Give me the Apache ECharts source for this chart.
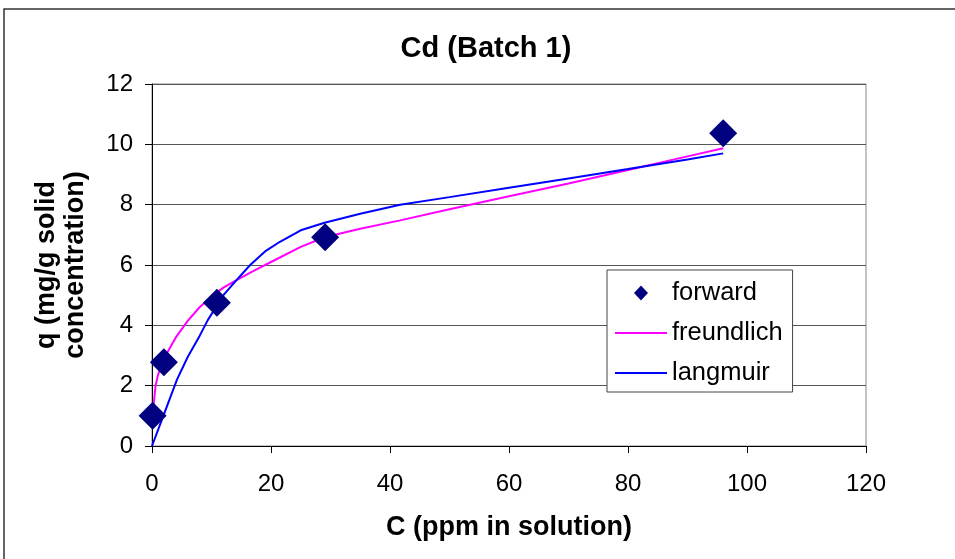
<!DOCTYPE html>
<html>
<head>
<meta charset="utf-8">
<script src="https://cdn.jsdelivr.net/npm/echarts@6/dist/echarts.min.js"></script>
<style>html,body{margin:0;padding:0;background:#fff;}#c{width:955px;height:559px;}</style>
</head>
<body>
<div id="c"></div>
<script>
var titleText = 'Cd (Batch 1)';
var xName = 'C (ppm in solution)';
var yName = 'q (mg/g solid\nconcentration)';
var seriesNames = ['forward', 'freundlich', 'langmuir'];

var forwardC = [0.1, 2.0, 10.9, 29.1, 96.0];
var forwardQ = [1.0, 2.78, 4.75, 6.92, 10.37];

var freundC = [0.1, 0.6, 1, 2, 4, 6, 8, 10, 12, 14.2, 17, 20, 25, 29, 35, 41.7, 50, 60, 70, 80, 90, 96];
var freundQ = [1.05, 2.0, 2.35, 2.9, 3.6, 4.15, 4.6, 4.95, 5.25, 5.5, 5.8, 6.1, 6.6, 6.92, 7.2, 7.48, 7.85, 8.28, 8.7, 9.15, 9.6, 9.87];

var langC = [0, 2, 4.2, 6, 8, 9.4, 12, 14.2, 16.5, 19, 21.5, 25, 29, 35, 41.7, 50, 60, 70, 80, 90, 96];
var langQ = [0, 1.05, 2.2, 2.95, 3.65, 4.18, 5.0, 5.5, 6.0, 6.45, 6.77, 7.15, 7.4, 7.7, 8.0, 8.25, 8.56, 8.87, 9.18, 9.5, 9.7];

function pairs(xs, ys) { return xs.map(function (x, i) { return [x, ys[i]]; }); }

var FONT = 'Liberation Sans, Arial, sans-serif';
var ICON_DIAMOND = 'path://M0,0 M52,16 M19,8 L26,0.5 L33,8 L26,15.5 Z';
var ICON_LINE = 'path://M0,0 M52,16 M0,7 L52,7 L52,9 L0,9 Z';

var chart = echarts.init(document.getElementById('c'), null, {renderer: 'canvas'});
chart.setOption({
  animation: false,
  backgroundColor: '#ffffff',
  title: {
    text: titleText,
    left: 486, top: 34, padding: 0, textAlign: 'center',
    textStyle: {fontFamily: FONT, fontSize: 29, fontWeight: 'bold', color: '#000'}
  },
  graphic: [{
    type: 'rect', silent: true, z: -1,
    shape: {x: 4, y: 9, width: 980, height: 580},
    style: {fill: 'none', stroke: '#333', lineWidth: 1.5}
  }],
  legend: {
    orient: 'vertical',
    left: 607, top: 270,
    padding: [10, 10, 6, 8],
    itemGap: 14,
    itemWidth: 52, itemHeight: 16,
    itemTextGap: 7,
    symbolKeepAspect: true,
    backgroundColor: '#fff',
    borderColor: '#444', borderWidth: 1,
    textStyle: {fontFamily: FONT, fontSize: 25.5, color: '#000'},
    data: [
      {name: seriesNames[0], icon: ICON_DIAMOND},
      {name: seriesNames[1], icon: ICON_LINE},
      {name: seriesNames[2], icon: ICON_LINE}
    ]
  },
  grid: {
    left: 152, right: 89, top: 84, bottom: 113,
    show: true, borderColor: '#888', borderWidth: 1, backgroundColor: '#fff'
  },
  xAxis: {
    type: 'value', min: 0, max: 120, interval: 20,
    name: xName, nameLocation: 'middle', nameGap: 68,
    nameTextStyle: {fontFamily: FONT, fontSize: 27, fontWeight: 'bold', color: '#000'},
    axisLine: {lineStyle: {color: '#000', width: 1}},
    axisTick: {length: 7, lineStyle: {color: '#000'}},
    axisLabel: {fontFamily: FONT, fontSize: 24, color: '#000', margin: 26},
    splitLine: {show: false}
  },
  yAxis: {
    type: 'value', min: 0, max: 12, interval: 2,
    name: yName, nameLocation: 'middle', nameGap: 62, nameRotate: 90,
    nameTextStyle: {fontFamily: FONT, fontSize: 27, fontWeight: 'bold', color: '#000', lineHeight: 29},
    axisLine: {show: true, lineStyle: {color: '#000', width: 1}},
    axisTick: {show: true, length: 7, lineStyle: {color: '#000'}},
    axisLabel: {fontFamily: FONT, fontSize: 24, color: '#000', margin: 19},
    splitLine: {show: true, lineStyle: {color: '#555', width: 1}}
  },
  series: [
    {
      name: seriesNames[0], type: 'scatter', symbol: 'diamond', symbolSize: 28,
      itemStyle: {color: '#000080', opacity: 1}, z: 5,
      data: pairs(forwardC, forwardQ)
    },
    {
      name: seriesNames[1], type: 'line', symbol: 'none', smooth: false,
      lineStyle: {color: '#ff00ff', width: 2}, itemStyle: {color: '#ff00ff'}, z: 3,
      data: pairs(freundC, freundQ)
    },
    {
      name: seriesNames[2], type: 'line', symbol: 'none', smooth: false,
      lineStyle: {color: '#0000ff', width: 2}, itemStyle: {color: '#0000ff'}, z: 4,
      data: pairs(langC, langQ)
    }
  ]
});
</script>
</body>
</html>
